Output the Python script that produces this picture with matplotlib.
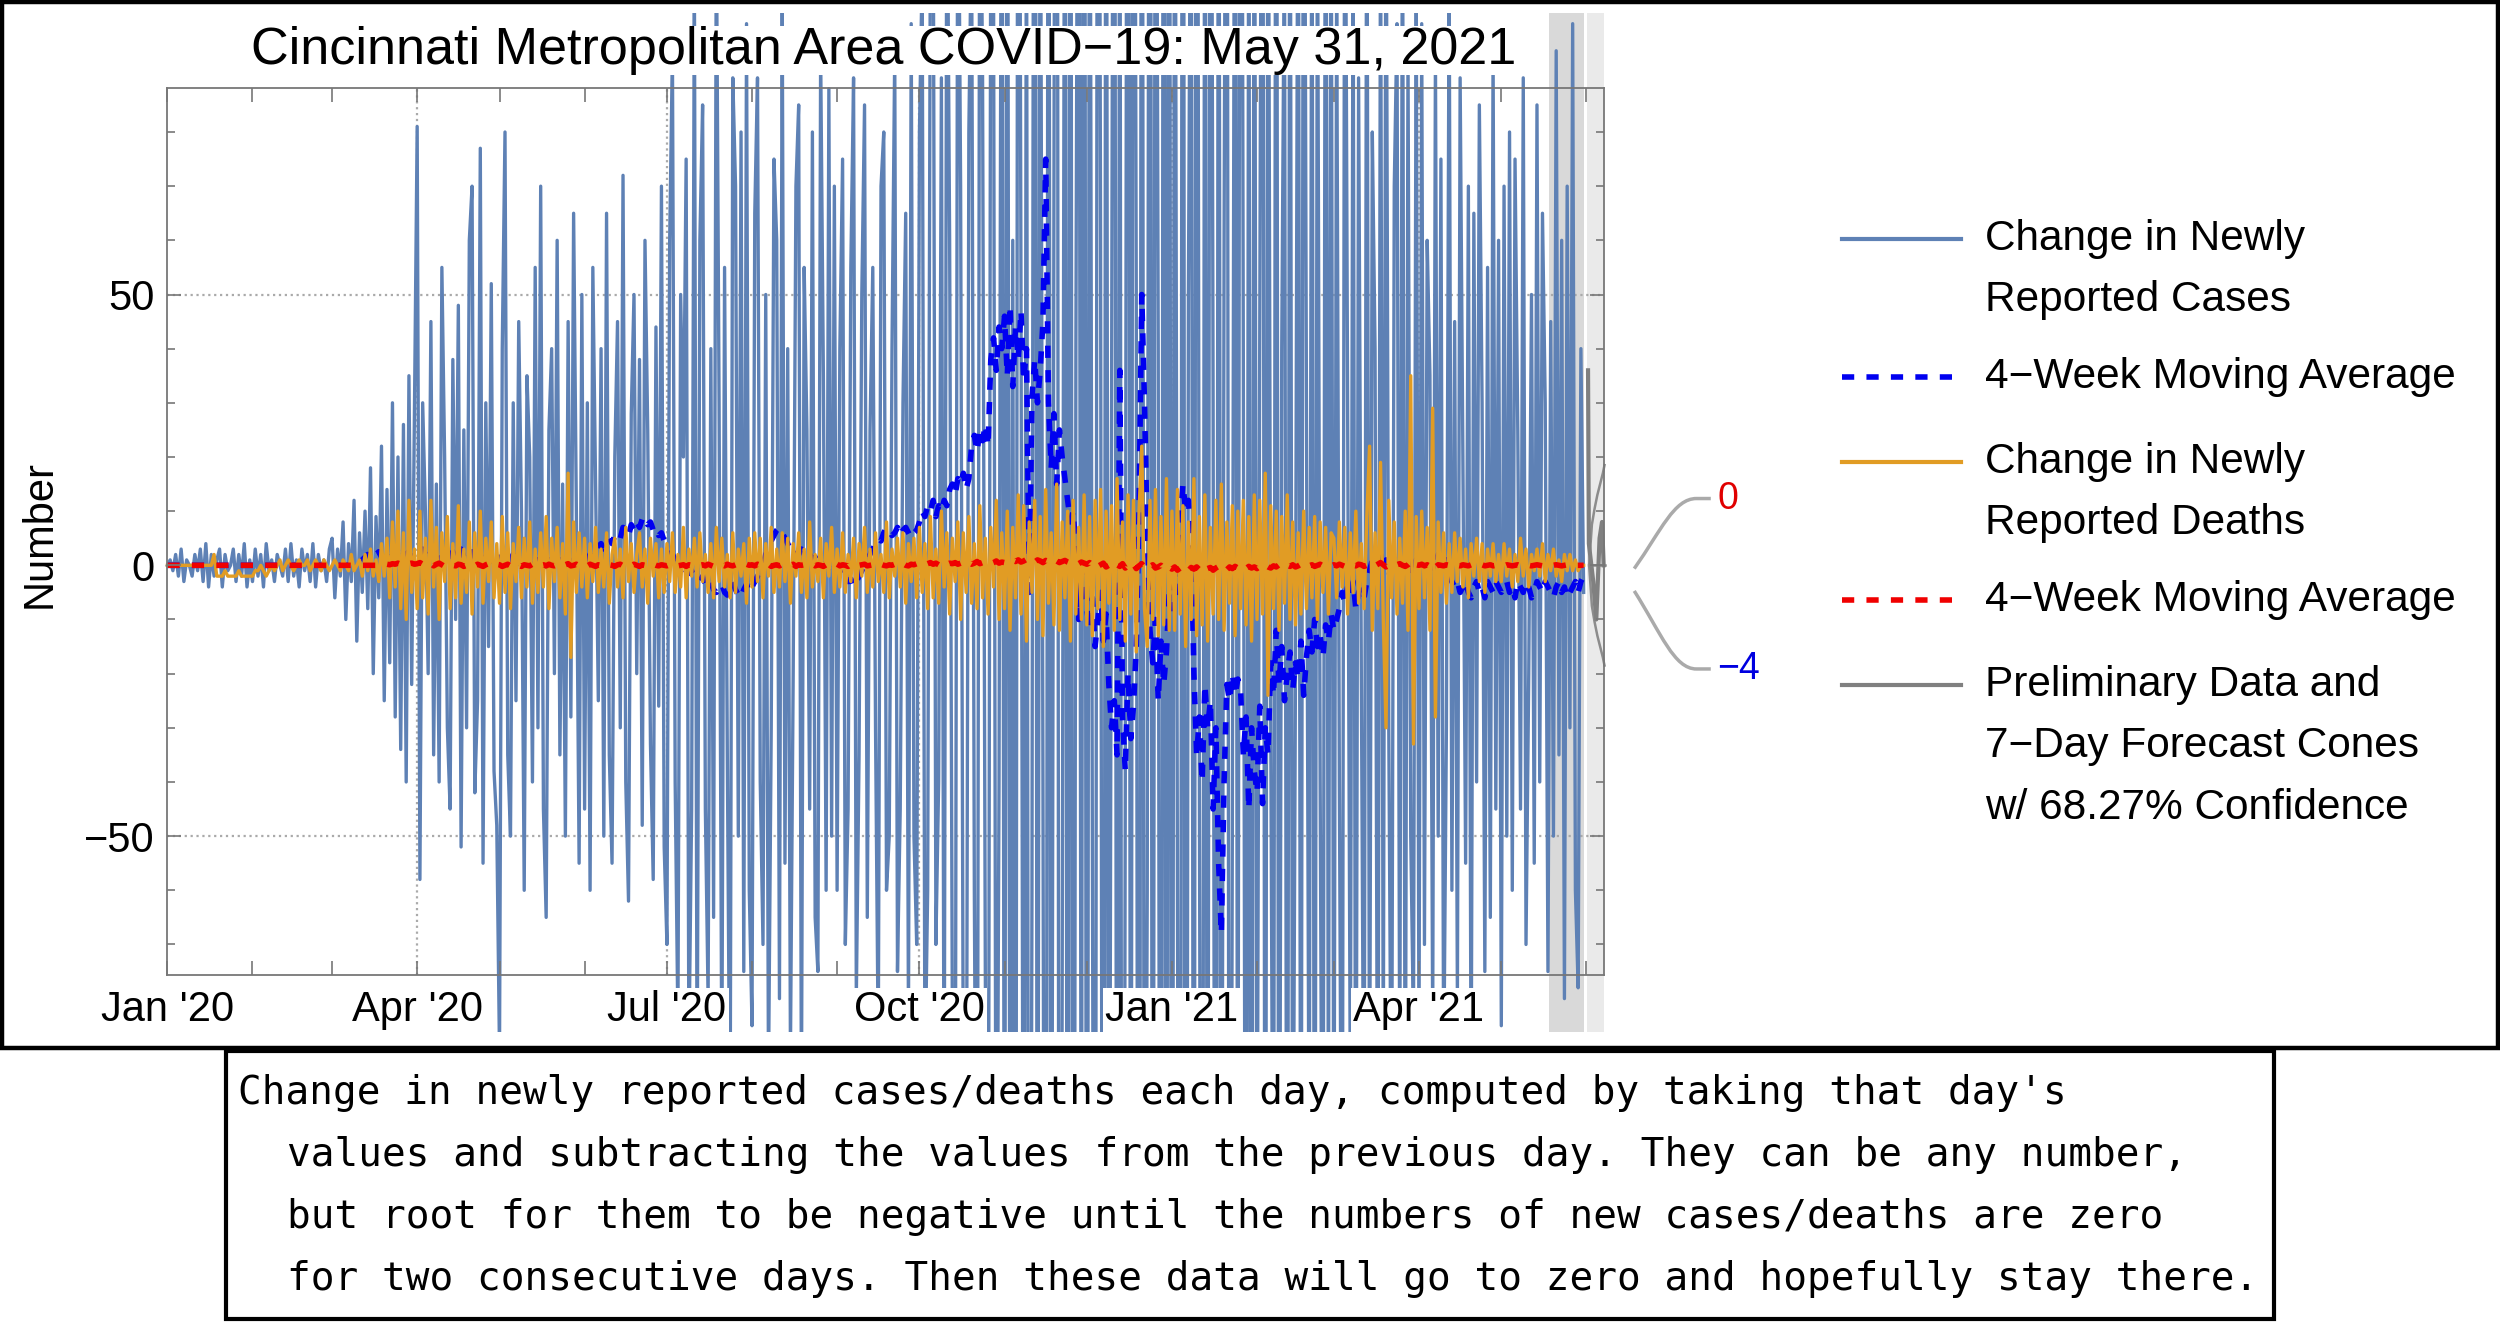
import numpy as np
import pandas as pd
import matplotlib
matplotlib.use('Agg')
import matplotlib.pyplot as plt
from matplotlib.lines import Line2D
from matplotlib.patches import Rectangle, PathPatch
from matplotlib.path import Path
from matplotlib.transforms import Bbox, TransformedBbox

# daily change in newly reported cases, Jan 1 2020 .. May 31 2021 (one row per month)
cases_change = [
    0, 1, -1, 2, -2, 3, -3, 1, 0, -2, 2, -1, 3, -3, 4, -4, 2, -2, 1, 3, -4, 2, -1, 0, 3, -3, 2, -2, 4, -4, 1,
    -3, 3, -2, 2, -4, 4, -1, 1, -3, 2, 0, -2, 3, -3, 4, -2, 1, -4, 3, -1, 2, -3, 4, -4, 2, -1, 1, -3, 3,
    5, -6, 3, -2, 8, -10, 4, -3, 12, -14, 6, -5, 10, -8, 18, -20, 9, -6, 22, -25, 14, -18, 30, -28, 20, -34, 26, -40, 35, -22, 28,
    81, -58, 30, 10, -20, 45, -35, 15, -40, 55, 20, -30, -45, 38, -10, 48, -52, 25, -30, 60, 70, -42, -25, 77, -55, 30, -15, 52, -38, -48,
    -90, 40, 80, -35, -50, 30, -25, 45, 10, -60, 35, 20, -40, 55, -30, 70, -45, -65, 25, 40, -20, 60, -35, 15, -50, 45, -28, 65, 10, -55, 50,
    -45, 30, -60, 55, 15, -25, 40, -50, 65, -35, -55, 20, 45, -30, 72, -40, -62, 28, 50, -20, 38, -48, 60, 25, -33, -58, 44, -26, 70, -52,
    -70, 60, 95, -40, -85, 50, 20, 75, -90, -45, 110, -100, 60, 85, -45, -80, 40, -65, 120, 30, -95, 55, -35, -110, 90, 70, -50, 80, -75, 100, -60,
    -85, 65, 90, -40, -70, 50, -95, -30, 75, 60, -80, 105, -55, 40, -90, -20, 70, 85, -100, 55, 25, -45, 80, -65, -75, 95, 35, -60, 88, -50, 70,
    -60, 40, 75, -70, -45, 55, 90, -80, -35, 50, 85, -65, 25, 55, -30, -90, 70, 80, -60, -50, 40, 95, -75, -45, 30, 65, -85, 100, -50, -70,
    80, 110, -95, -60, 120, 130, -70, -40, 90, -110, 140, 60, -85, -130, 150, 70, -100, -140, 80, 120, -60, -160, 150, 90, -75, -170, 130, 110, -160, -40, 180,
    -170, 200, -150, 60, -220, 250, 50, -180, 140, -260, -60, 300, -200, 160, -40, -280, 240, -190, 70, 310, -270, -80, 180, -230, 290, -300, 40, 210, -160, 330,
    -280, 190, -50, -250, 270, 60, -310, 230, -200, 30, 260, -240, 180, -300, -40, 320, -210, 250, 50, -330, 280, -190, -60, 300, -260, 220, 40, -340, 310, -230, 270,
    -290, 200, -60, -250, 330, -310, 50, 160, -220, 280, -40, -260, 190, -200, 240, 30, -280, 210, -180, 60, 230, -250, -50, 200, -160, 270, 40, -220, 150, -240, 190,
    -130, 50, 210, -200, 170, -30, -150, 230, -190, 40, 120, -210, 180, -140, -20, 160, -170, 200, 30, -120, 150, -180, 130, -40, -160, 190, -110, 140,
    -130, 110, -40, -150, 160, 30, -100, 120, -140, 90, -20, -120, 150, -110, 80, 40, -130, 125, -95, 140, -30, -115, 70, 100, -100, 135, -120, 95, -50, -85, 110,
    -90, 100, -70, 60, 35, -85, 95, -50, 75, -95, -30, 110, -60, 45, -80, 90, 20, -55, 70, -100, 65, -40, 85, 30, -75, 55, -65, 95, -45, 60,
    -85, 70, -50, 80, -60, 75, 25, -45, 90, -70, -20, 50, -55, 85, -40, 65, 30, -75, 45, -50, 95, -35, 60, -80, 70, -30, 100, -60, -78, 40, -5,
]

cases_avg = [
    0, 0, 0, 0, 0, 0, 0, 0, 0, 0, 0, 0, 0, 0, 0, 0, 0, 0, 0, 0, 0, 0, 0, 0, 0, 0, 0, 0, 0, 0, 0,
    0, 0, 0, 0, 0, 0, 0, 0, 0, 0, 0, 0, 0, 0, 0, 0, 0, 0, 0, 0, 0, 0, 0, 0, 0, 0, 0, 0, 0,
    0, 0, 0, 0, 0, 0, 0, 0, 0, 0, 0.5, 1, 1.5, 2, 1.5, 1, 2, 2.5, 1.5, 2, 2.5, 3, 2, 1.5, 2.5, 2, 3, 2.5, 1.5, 2, 2.5,
    2, 1.5, 3, 2, 1, 2.5, 1.5, 3, 2, 1, 2, 0.5, 1.5, 2.5, 1, 2, 3, 1.5, 1, 2, 2.5, 1.5, 0.5, 1, 2, 1.5, 0.5, 1, 2, 1,
    1.5, 0.5, 1, 0, 1, 2, 0.5, -0.5, 0, 1, 1.5, 0.5, -0.5, 0.5, 1, 0, -1, 0.5, 1, 0, -0.5, 0.5, 1, 0, 0.5, -0.5, 0, 1, 0.5, 0, 1,
    0.5, 1, 2, 3, 2.5, 3.5, 4, 3, 4.5, 5, 4, 5.5, 6, 5, 7, 6, 5.5, 7.5, 6.5, 8, 7, 8.5, 9, 7.5, 8, 6.5, 7, 5.5, 6, 4.5,
    4, 3, 2, 1, 0.5, 0, -0.5, -1, -1.5, -1, -2, -2.5, -3, -2, -3.5, -4, -3, -4.5, -5, -4, -3.5, -5, -5.5, -4, -3, -4.5, -5.5, -6, -4.5, -3.5, -5,
    -4, -3, -2, -1, 0, 2, 3, 4.5, 5.5, 6.5, 7, 6, 5, 4, 3, 3.5, 2.5, 2, 3, 2.5, 1.5, 2, 1, 1.5, 0.5, 1, 0, 0.5, -0.5, 0, 1,
    0, -1, -2, -1.5, -3, -2.5, -4, -3, -2, -1, 0, 1, 2, 3, 4, 5, 4.5, 6, 7, 6.5, 5.5, 6, 7, 5.5, 6.5, 7, 6, 5, 6, 6.5,
    8, 10, 9, 11, 10, 12, 9, 11, 10, 12, 11, 14, 15, 13, 16, 15, 17, 14, 16, 22, 24, 21, 25, 23, 26, 22, 38, 42, 36, 44, 40,
    46, 35, 48, 33, 44, 38, 47, 34, 40, -5, 31, 38, 30, 36, 45, 75, 30, 18, 28, 15, 25, 20, 16, 12, 8, 10, 3, -10, 2, -5,
    -8, -12, -6, -15, -10, -5, -14, -9, -22, -30, -25, -35, 36, -28, -38, -20, -32, -26, -15, 10, 50, 30, 5, -12, -18, -10, -25, -14, -22, -16, -5,
    -8, 0, -5, 8, 15, 10, 12, 5, -20, -35, -28, -40, -22, -30, -25, -45, -30, -55, -68, -40, -22, -25, -20, -24, -21, -23, -35, -28, -45, -30, -38,
    -42, -26, -44, -30, -35, -18, -24, -12, -22, -15, -25, -20, -16, -23, -18, -21, -14, -24, -17, -12, -16, -10, -15, -13, -17, -11, -14, -9,
    -12, -10, -8, -5, -7, -4, -6, -3, -8, -5, -4, -6, -3, -1, 1, -2, 0, 2, -1, 1, -2, 0, 1, -1, 2, 0, -1, 1, -2, 0, 1,
    -1, 0, 2, -2, 1, 0, -1, 2, -1, 0, 1, -2, -3, -4, -3, -5, -4, -3, -5, -6, -4, -3, -5, -4, -6, -3, -4, -5, -3, -4,
    -5, -4, -3, -5, -4, -6, -3, -4, -5, -3, -4, -6, -5, -3, -4, -5, -3, -4, -5, -6, -4, -3, -5, -4, -6, -5, -4, -3, -5, -3, -2,
]

deaths_change = [
    0, 0, 0, 0, 0, 0, 0, 0, 0, 0, 0, 0, 0, 0, 0, 0, 0, 2, -2, -2, -2, -1, -2, -2, -2, -2, -1, -2, -2, -2, -2,
    -2, -1, -1, 0, -1, -2, -1, 0, -1, 0, 1, -1, 0, 1, 0, -1, 0, 1, 0, 0, 1, -1, 0, 1, 0, -1, 1, 0, -1,
    0, 1, 0, -1, 1, 0, -1, 2, -1, 0, 1, -2, 2, -1, 3, -2, 1, -3, 4, -2, 5, -6, 8, -4, 10, -8, 6, -10, 12, -5, 3,
    -8, 10, -6, 5, -9, 12, -4, 7, -10, 6, -3, 9, -8, 4, -6, 11, -7, 3, -5, 8, -9, 6, -4, 10, -7, 5, -3, 8, -6, 4,
    -7, 9, -5, 6, -8, 4, -3, 7, -6, 5, -4, 8, -7, 3, -5, 6, -4, 9, -8, 5, -3, 7, -6, 4, -9, 17, -17, 8, -5, 6, -4,
    5, -6, 4, -3, 7, -5, 3, -4, 6, -7, 2, 5, -4, 3, -6, 7, -3, 4, -5, 2, 6, -4, 3, -7, 5, -2, 4, -6, 3, -5,
    4, -3, 6, -5, 2, -4, 7, -6, 3, -2, 5, -4, 6, -3, 2, -5, 4, -6, 7, -3, 5, -4, 2, -6, 6, -5, 3, -2, 4, -7, 5,
    -4, 6, -3, 5, -6, 4, -2, 7, -5, 3, -4, 6, -3, 5, -7, 4, -2, 6, -5, 3, -6, 8, -4, 2, -3, 5, -6, 4, -2, 7, -5,
    3, -4, 6, -5, 2, -3, 5, -6, 4, -2, 7, -5, 3, -4, 6, -3, 2, -5, 8, -6, 3, -2, 5, -4, 6, -7, 4, -3, 5, -6,
    7, -5, 4, -8, 9, -6, 3, -7, 10, -4, 6, -9, 5, -3, 8, -10, 6, -5, 9, -7, 4, -8, 11, -6, 5, -9, 7, -4, 12, -10, 6,
    -8, 10, -12, 7, -6, 13, -9, 11, -14, 8, -5, 12, -10, 9, -13, 14, -7, 6, -11, 15, -12, 8, -6, 10, -14, 12, -9, 7, -10, 13,
    -11, 9, -13, 12, -8, 14, -15, 10, -7, 11, -12, 16, -10, 8, -14, 13, -9, 12, -16, 10, 22, -8, -15, 12, -10, 14, -13, 9, -11, 16, -12,
    10, -12, 14, -9, 11, -15, 8, -10, 16, -13, 9, -11, 13, -14, 7, -9, 12, -10, 15, -12, 8, -7, 11, -13, 10, -8, 12, -11, 9, -14, 13,
    -10, 12, -9, 17, -24, 11, -8, 10, -12, 9, -7, 13, -10, 8, -11, 6, -9, 10, -8, 7, -6, 9, -10, 8, -5, 7, -9, 6,
    5, -6, 8, -4, 7, -9, 6, -5, 10, -7, 4, -8, 9, 22, -12, 6, -8, 19, -10, -30, 12, -6, 8, -9, 5, -7, 10, -12, 35, -33, 9,
    -8, 10, -6, 7, -12, 29, -28, 8, -5, 6, -7, 4, -5, 6, -3, 5, -4, 3, -6, 4, -2, 5, -3, 4, -5, 3, -2, 4, -3, 2,
    -3, 4, -2, 3, -4, 2, -3, 5, -2, 3, -4, 2, -1, 3, -2, 4, -3, 2, -1, 3, -2, 1, -3, 2, -1, 2, -1, 1, -1, 0, 0,
]

deaths_avg = [
    0, 0, 0, 0, 0, 0, 0, 0, 0, 0, 0, 0, 0, 0, 0, 0, 0, 0, 0, 0, 0, 0, 0, 0, 0, 0, 0, 0, 0, 0, 0,
    0, 0, 0, 0, 0, 0, 0, 0, 0, 0, 0, 0, 0, 0, 0, 0, 0, 0, 0, 0, 0, 0, 0, 0, 0, 0, 0, 0, 0,
    0, 0, 0, 0, 0, 0, 0, 0, 0, 0, 0, 0, 0, 0, 0, 0, 0, 0, 0, 0, 0.2, 0.1, 0.3, 0.2, 0.4, 0.2, 0.3, 0.5, 0.3, 0.4, 0.2,
    0.3, 0.5, 0.2, 0.4, 0.1, 0.3, -0.1, 0.2, 0.4, 0.1, -0.2, 0.1, 0.3, 0, -0.1, 0.2, 0.1, -0.2, 0, 0.3, 0.1, -0.1, 0.2, 0, -0.2, 0.1, 0.3, 0, -0.1, 0.2,
    0.1, -0.2, 0, 0.2, -0.1, 0.1, 0.3, 0, -0.2, 0.1, 0, -0.1, 0.2, 0.1, -0.2, 0, 0.1, -0.1, 0.2, 0, -0.1, 0.1, 0, -0.2, 0.1, 0.3, -0.1, 0, 0.2, -0.1, 0,
    0.1, -0.1, 0.2, 0, -0.2, 0.1, 0, 0.2, -0.1, 0.1, 0, -0.2, 0.1, 0.2, -0.1, 0, 0.1, -0.1, 0.2, 0, -0.2, 0.1, 0, 0.1, -0.1, 0.2, 0, -0.1, 0.1, 0,
    -0.1, 0.1, 0, 0.2, -0.1, 0, 0.1, -0.2, 0.1, 0, 0.2, -0.1, 0, 0.1, -0.1, 0.2, 0, -0.2, 0.1, 0, 0.1, -0.1, 0.2, 0, -0.1, 0.1, 0, -0.2, 0.1, 0.2, 0,
    0.1, -0.1, 0.2, 0, -0.1, 0.1, 0.2, -0.2, 0, 0.1, -0.1, 0.2, 0.1, -0.1, 0, 0.2, -0.2, 0.1, 0, 0.1, -0.1, 0, 0.2, -0.1, 0.1, 0, -0.2, 0.1, 0.2, -0.1, 0,
    0.2, -0.1, 0.1, 0, -0.2, 0.2, 0.1, -0.1, 0, 0.1, 0.2, -0.1, 0, 0.1, -0.2, 0.1, 0.2, 0, -0.1, 0.1, 0, 0.2, -0.1, 0.1, 0.3, 0, -0.1, 0.2, 0.1, 0.3,
    0.2, 0.4, 0.1, 0.3, 0.5, 0.2, 0.4, 0.1, 0.3, 0.6, 0.2, 0.4, 0.3, 0.5, 0.2, 0.4, 0.6, 0.3, 0.5, 0.2, 0.4, 0.7, 0.3, 0.5, 0.4, 0.6, 0.3, 0.5, 0.8, 0.4, 0.6,
    0.5, 0.8, 0.6, 0.9, 0.7, 1.0, 0.6, 0.8, 1.1, 0.7, 0.9, 0.6, 1.0, 0.8, 0.5, 0.9, 0.7, 1.0, 0.6, 0.8, 0.5, 0.7, 0.9, 0.6, 0.4, 0.7, 0.5, 0.3, 0.6, 0.4,
    0.2, 0.5, 0, 0.3, -0.2, 0.1, 0.4, -0.3, 0, 0.2, -0.4, 0.1, -0.2, 0.3, -0.5, 0, -0.3, 0.2, -0.6, -0.1, 0.3, -0.4, -0.8, -0.2, 0.1, -0.5, -0.3, 0, -0.6, -0.2, -0.4,
    -0.7, -0.3, -0.9, -0.5, -0.2, -0.6, -1.0, -0.4, -0.7, -0.3, -0.8, -0.5, -1.1, -0.6, -0.4, -0.9, -0.5, -0.2, -0.7, -0.4, -0.8, -0.3, -0.6, -0.2, -0.5, -0.1, -0.4, -0.6, -0.2, -0.5, -0.3,
    -0.6, -0.2, -0.4, 0, -0.3, -0.5, -0.1, -0.3, 0.1, -0.2, -0.4, 0, -0.2, 0.1, -0.3, -0.1, 0.2, -0.2, 0, -0.1, 0.1, -0.2, 0, 0.2, -0.1, 0.1, 0, -0.1,
    0.1, -0.1, 0.2, 0, -0.2, 0.1, 0.3, 0, -0.1, 0.2, 0.1, -0.2, 0, 0.4, 0.1, -0.1, 0.2, 0.5, 0.1, -0.3, 0, 0.2, -0.1, 0.1, 0.3, 0, -0.2, 0.1, 0.6, -0.2, 0.1,
    0, 0.2, -0.1, 0.1, -0.2, 0.4, -0.3, 0.1, 0, -0.1, 0.1, 0, -0.2, 0.1, 0, -0.1, 0.1, 0, -0.1, 0.1, 0, -0.2, 0, 0.1, -0.1, 0, 0.1, -0.1, 0, 0.1,
    0, -0.1, 0.1, 0, -0.1, 0, 0.1, -0.1, 0, 0.1, 0, -0.1, 0, 0.1, 0, -0.1, 0.1, 0, -0.1, 0, 0.1, 0, -0.1, 0, 0.1, 0, -0.1, 0, 0, 0, 0,
]

# preliminary data and the 7-day forecast cone (day numbers since Jan 1 2020)
prelim_days = [517.6, 517.9, 519.5, 520.6, 521.8, 522.7, 523.3]
prelim_values = [36, 4, -3, -10, 5, 8, 0]
cone_days = [518.0, 519.0, 520.0, 521.0, 522.0, 523.0, 523.6]
cone_upper = [0, 7.5, 10.5, 13, 15, 17, 18.5]
cone_lower = [0, -7.5, -10.5, -13, -15, -17, -18.5]
cone_center = [0, 0, 0, 0, 0, 0, 0]
forecast_deaths = '0'
forecast_cases = '\u22124'

prelim_band = (503.5, 516.2)
forecast_band = (517.2, 523.4)

quarter_labels = ["Jan '20", "Apr '20", "Jul '20", "Oct '20", "Jan '21", "Apr '21"]
quarter_dates = ['2020-01-01', '2020-04-01', '2020-07-01', '2020-10-01', '2021-01-01', '2021-04-01']

legend_rows = [
    (['Change in Newly', 'Reported Cases'], '#5E81B5', '-'),
    (['4\u2212Week Moving Average'], '#0000F0', '--'),
    (['Change in Newly', 'Reported Deaths'], '#E19C24', '-'),
    (['4\u2212Week Moving Average'], '#F00000', '--'),
    (['Preliminary Data and', '7\u2212Day Forecast Cones', 'w/ 68.27% Confidence'], '#808080', '-'),
]
legend_y = [150, 237, 290, 377, 430]

caption_lines = [
    "Change in newly reported cases/deaths each day, computed by taking that day's",
    "values and subtracting the values from the previous day. They can be any number,",
    "but root for them to be negative until the numbers of new cases/deaths are zero",
    "for two consecutive days. Then these data will go to zero and hopefully stay there.",
]

plt.rcParams['font.family'] = ['Liberation Sans', 'DejaVu Sans']

# layout is worked out on a 1568 x 830 grid and mapped to figure fractions
W, H = 1568.0, 830.0


def fx(x):
    return x / W


def fy(y):
    return 1 - y / H


fig = plt.figure(figsize=(25, 13.22), dpi=100)
ax = fig.add_axes([fx(105), fy(612), fx(1006) - fx(105), fy(55) - fy(612)])

start = pd.Timestamp('2020-01-01')
quarter_days = [(pd.Timestamp(d) - start).days for d in quarter_dates]
month_days = [(d - start).days for d in pd.date_range('2020-01-01', '2021-06-01', freq='MS')]

# the plotted curves run past the frame, up to the top and bottom of the panel
clip_bb = TransformedBbox(Bbox.from_extents(fx(100), fy(648), fx(1012), fy(8)), fig.transFigure)

for x0, x1, c in [(prelim_band[0], prelim_band[1], '#D9D9D9'), (forecast_band[0], forecast_band[1], '#EAEAEA')]:
    band = ax.axvspan(x0, x1, ymin=-0.2, ymax=1.3, color=c, lw=0, zorder=0.8)
    band.set_clip_box(clip_bb)

for q in quarter_days[1:]:
    ax.axvline(q, color='#AAAAAA', ls=':', lw=1.6, zorder=1)
for yv in [-50, 50]:
    ax.axhline(yv, color='#AAAAAA', ls=':', lw=1.6, zorder=1)

lines = []
lines += ax.plot(np.arange(len(cases_change)), cases_change, color='#5E81B5', lw=2.4, zorder=2.0)
lines += ax.plot(np.arange(len(cases_avg)), cases_avg, color='#0000F0', lw=4.0, dashes=(2.2, 2.2), zorder=2.1)
lines += ax.plot(np.arange(len(deaths_change)), deaths_change, color='#E19C24', lw=2.4, zorder=2.2)
lines += ax.plot(np.arange(len(deaths_avg)), deaths_avg, color='#F00000', lw=4.0, dashes=(2.2, 2.2), zorder=2.3)
lines += ax.plot(cone_days, cone_upper, color='#8C8C8C', lw=1.8, zorder=2.35)
lines += ax.plot(cone_days, cone_lower, color='#8C8C8C', lw=1.8, zorder=2.35)
lines += ax.plot(cone_days, cone_center, color='#8C8C8C', lw=1.8, zorder=2.35)
lines += ax.plot(prelim_days, prelim_values, color='#808080', lw=3.0, zorder=2.4)
for ln in lines:
    ln.set_clip_box(clip_bb)

ax.set_xlim(0, 523.4)
ax.set_ylim(-75.6, 88.2)
ax.set_axisbelow(False)

ax.set_xticks(quarter_days, quarter_labels)
ax.set_xticks(month_days, minor=True)
ax.set_yticks([-50, 0, 50])
ax.set_yticks(np.arange(-70, 90, 10), minor=True)
ax.tick_params(axis='both', which='both', direction='in', top=True, right=True,
               color='#777777', width=1.2, labelsize=30)
ax.tick_params(axis='x', which='both', length=10, pad=11)
ax.tick_params(axis='y', which='major', length=10, pad=9)
ax.tick_params(axis='y', which='minor', length=6)
for lab in ax.get_xticklabels():
    lab.set_bbox(dict(facecolor='white', edgecolor='none', pad=1.5))
for sp in ax.spines.values():
    sp.set_color('#777777')
    sp.set_linewidth(1.3)

fig.text(fx(554), fy(40), 'Cincinnati Metropolitan Area COVID\u221219: May 31, 2021',
         ha='center', va='baseline', fontsize=37.5,
         bbox=dict(facecolor='white', edgecolor='none', pad=0))
fig.text(fx(25), fy(335), 'Number', rotation=90, ha='center', va='center', fontsize=30)

# legend
for (texts, color, style), row_y in zip(legend_rows, legend_y):
    if style == '--':
        handle = Line2D([fx(1155), fx(1227)], [fy(row_y)] * 2, transform=fig.transFigure,
                        color=color, lw=4.0, dashes=(2.2, 2.2))
    else:
        handle = Line2D([fx(1155), fx(1230)], [fy(row_y)] * 2, transform=fig.transFigure,
                        color=color, lw=3.0)
    fig.add_artist(handle)
    for i, t in enumerate(texts):
        fig.text(fx(1245), fy(row_y + i * 38.5), t, ha='left', va='center', fontsize=30.5)

# forecast call-outs
for y_start, y_end, label, color in [(357, 313, forecast_deaths, '#E00000'),
                                     (371, 420, forecast_cases, '#0000E0')]:
    verts = [(fx(1025), fy(y_start)), (fx(1042), fy(y_start + (y_end - y_start) * 0.55)),
             (fx(1050), fy(y_end)), (fx(1064), fy(y_end)), (fx(1073), fy(y_end))]
    codes = [Path.MOVETO, Path.CURVE4, Path.CURVE4, Path.CURVE4, Path.LINETO]
    fig.add_artist(PathPatch(Path(verts, codes), transform=fig.transFigure, fill=False,
                             edgecolor='#AAAAAA', lw=2.5))
    fig.text(fx(1077), fy(y_end), label, color=color, ha='left', va='center', fontsize=27)

# panel frame and caption box
fig.add_artist(Rectangle((fx(1.5), fy(658)), fx(1565), fy(1.5) - fy(658), transform=fig.transFigure,
                         fill=False, edgecolor='black', lw=3.2))
fig.add_artist(Rectangle((fx(142), fy(828)), fx(1426) - fx(142), fy(660) - fy(828), transform=fig.transFigure,
                         fill=False, edgecolor='black', lw=3.0))
for i, line in enumerate(caption_lines):
    xpos = 149 if i == 0 else 180
    fig.text(fx(xpos), fy(686 + i * 39), line, ha='left', va='center',
             fontsize=28.4, family='DejaVu Sans Mono')

fig.savefig('out.png', dpi=100, facecolor='white')
